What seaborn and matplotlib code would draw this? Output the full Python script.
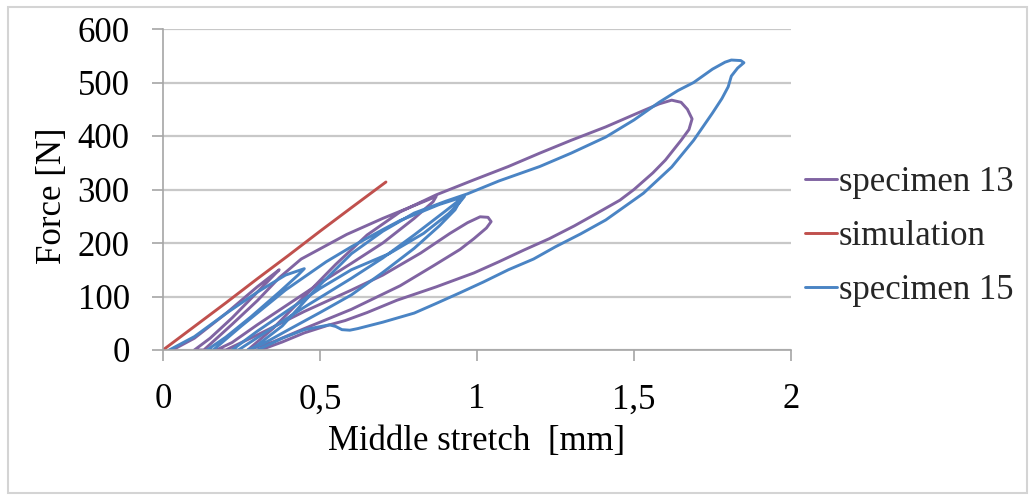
import matplotlib
matplotlib.use('Agg')
import matplotlib.pyplot as plt
import pandas as pd
import seaborn as sns
from matplotlib.patches import Rectangle

# specimen 13 (purple), one continuous path
spec13_x = [0.03, 0.10, 0.20, 0.30, 0.37,
            0.35, 0.29, 0.22, 0.15, 0.10,
            0.13, 0.22, 0.30, 0.37, 0.44, 0.585, 0.70, 0.80, 0.87,
            0.86, 0.80, 0.70, 0.60, 0.50, 0.40, 0.30, 0.22, 0.17,
            0.20, 0.30, 0.45, 0.60, 0.70, 0.82, 0.914, 0.97, 1.01, 1.035, 1.045,
            1.03, 0.99, 0.946, 0.86, 0.755, 0.60, 0.45, 0.35, 0.27,
            0.35, 0.45, 0.55, 0.65, 0.755, 0.87, 0.99, 1.10, 1.20, 1.30, 1.41,
            1.52, 1.58, 1.62, 1.65, 1.67, 1.685, 1.675, 1.65, 1.60, 1.56, 1.50,
            1.455, 1.38, 1.31, 1.23, 1.15, 1.07, 0.99, 0.87, 0.745, 0.65, 0.58,
            0.53, 0.45, 0.38, 0.31]
spec13_y = [0, 22, 68, 118, 150,
            138, 102, 60, 22, 0,
            0, 48, 92, 135, 170, 216, 246, 270, 287,
            277, 246, 200, 162, 125, 86, 47, 14, 0,
            0, 28, 72, 112, 140, 181, 218, 238, 249, 248, 240,
            228, 208, 188, 157, 120, 76, 40, 15, 0,
            40, 100, 160, 215, 258, 290, 318, 343, 368, 392, 417,
            445, 460, 467, 463, 450, 432, 412, 392, 355, 331, 300,
            280, 255, 232, 208, 187, 165, 144, 118, 93, 70, 55,
            47, 32, 15, 0]

# simulation (red)
sim_x = [0.0, 0.10, 0.20, 0.30, 0.40, 0.50, 0.60, 0.71]
sim_y = [0, 44, 88, 133, 177, 222, 266, 314]

# specimen 15 (blue)
spec15_x = [0.02, 0.10, 0.20, 0.30, 0.39, 0.45,
            0.43, 0.37, 0.28, 0.20, 0.14,
            0.16, 0.25, 0.39, 0.52, 0.60, 0.70, 0.755, 0.88, 0.96,
            0.945, 0.91, 0.83, 0.72, 0.60, 0.50, 0.40, 0.30, 0.22,
            0.24, 0.35, 0.45, 0.60, 0.70, 0.80, 0.90, 0.95,
            0.93, 0.88, 0.80, 0.70, 0.60, 0.50, 0.40, 0.32, 0.27,
            0.28, 0.38, 0.48, 0.60, 0.70, 0.80, 0.90, 0.97, 1.07, 1.20, 1.30,
            1.41, 1.50, 1.58, 1.64, 1.69, 1.75, 1.79, 1.81, 1.84, 1.85, 1.83,
            1.81, 1.80, 1.78, 1.75, 1.69, 1.62, 1.53, 1.41, 1.33, 1.25, 1.18,
            1.10, 1.02, 0.946, 0.87, 0.80, 0.70, 0.62, 0.595, 0.57, 0.55, 0.53,
            0.45, 0.38, 0.33, 0.30]
spec15_y = [0, 25, 68, 108, 140, 152,
            140, 108, 62, 24, 0,
            0, 45, 112, 165, 193, 225, 242, 272, 287,
            276, 255, 218, 180, 150, 115, 75, 35, 0,
            0, 42, 80, 134, 172, 215, 260, 283,
            262, 232, 190, 145, 103, 70, 38, 12, 0,
            0, 45, 110, 180, 222, 256, 278, 292, 316, 343, 368,
            398, 430, 463, 485, 500, 525, 538, 542, 541, 537, 527,
            512, 492, 470, 443, 392, 342, 293, 243, 217, 193, 170,
            150, 127, 107, 87, 69, 52, 40, 37, 38, 44, 47,
            38, 22, 8, 0]

names = ['specimen 13', 'simulation', 'specimen 15']
colors = {'specimen 13': '#8064A2', 'simulation': '#C0504D', 'specimen 15': '#4A84C4'}

df = pd.concat([
    pd.DataFrame({'x': spec13_x, 'y': spec13_y, 'series': 'specimen 13'}),
    pd.DataFrame({'x': sim_x, 'y': sim_y, 'series': 'simulation'}),
    pd.DataFrame({'x': spec15_x, 'y': spec15_y, 'series': 'specimen 15'}),
], ignore_index=True)

sns.set_theme(style='white')
plt.rcParams['font.family'] = ['Liberation Serif', 'DejaVu Serif']

fig = plt.figure(figsize=(10.32, 4.95), dpi=100)
ax = fig.add_axes([163 / 1032, 1 - 350 / 495, 628 / 1032, 321 / 495])

sns.lineplot(data=df, x='x', y='y', hue='series', hue_order=names, palette=colors,
             sort=False, estimator=None, linewidth=2.1, ax=ax)

ax.set_xlim(0, 2)
ax.set_ylim(0, 600)
ax.set_xticks([0, 0.5, 1, 1.5, 2])
ax.set_xticklabels(['0', '0,5', '1', '1,5', '2'])
ax.set_yticks(range(0, 700, 100))
ax.yaxis.grid(True, color='#c8c8c8', linewidth=1.6)
ax.set_axisbelow(True)
for s in ['top', 'right']:
    ax.spines[s].set_visible(False)
for s in ['left', 'bottom']:
    ax.spines[s].set_color('#a6a6a6')
    ax.spines[s].set_linewidth(1.2)
ax.tick_params(axis='both', direction='out', length=8, width=1.2, color='#a6a6a6',
               labelsize=25, labelcolor='black')
ax.tick_params(axis='y', pad=16, left=True)
ax.tick_params(axis='x', pad=16, bottom=True)

ax.set_xlabel('Middle stretch  [mm]', fontsize=25, color='black')
ax.set_ylabel('Force [N]', fontsize=25, color='black')
ax.xaxis.set_label_coords(0.5, -0.235)
ax.yaxis.set_label_coords(-0.15, 0.48)

ax.legend(loc='upper left', bbox_to_anchor=(805 / 1032, 1 - 166 / 495),
          bbox_transform=fig.transFigure, frameon=False, fontsize=25,
          handlelength=0.92, handletextpad=0.05, borderpad=0, borderaxespad=0,
          labelspacing=0.6)

fig.patches.append(Rectangle((8 / 1032, 2 / 495), 1019 / 1032, 486 / 495,
                             transform=fig.transFigure, fill=False,
                             edgecolor='#d4d4d4', linewidth=1.5))

fig.savefig('out.png', dpi=100)
